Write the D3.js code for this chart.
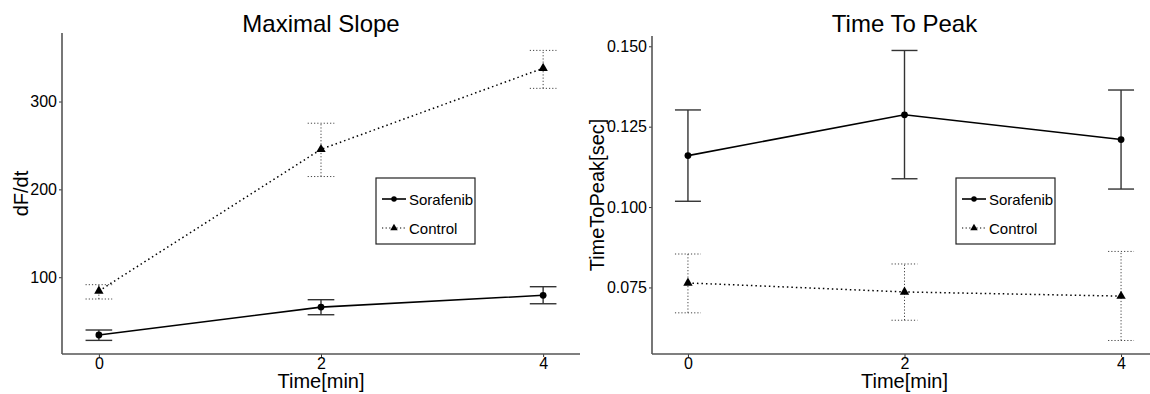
<!DOCTYPE html>
<html>
<head>
<meta charset="utf-8">
<script src="https://cdn.jsdelivr.net/npm/d3@7"></script>
<style>
  body { margin: 0; background: #fff; }
  svg text { font-family: "Liberation Sans", Arial, Helvetica, sans-serif; fill: #000; }
</style>
</head>
<body>
<svg id="chart"></svg>
<script>
const width = 1150;
const height = 394;

// Data
const times = [0, 2, 4];
const timeTicks = [0, 2, 4];
const seriesNames = ["Sorafenib", "Control"];

const slopeSorafenib = [34.2, 66.0, 79.4];
const slopeSorafenibLow = [28.1, 57.3, 69.8];
const slopeSorafenibHigh = [39.9, 74.4, 89.2];
const slopeControl = [84.3, 245.6, 337.9];
const slopeControlLow = [75.2, 214.6, 315.0];
const slopeControlHigh = [91.5, 275.3, 358.2];
const slopeTicks = [100, 200, 300];

const peakSorafenib = [0.1160, 0.1287, 0.1210];
const peakSorafenibLow = [0.1018, 0.1088, 0.1056];
const peakSorafenibHigh = [0.1302, 0.1487, 0.1364];
const peakControl = [0.0764, 0.0736, 0.0723];
const peakControlLow = [0.0671, 0.0648, 0.0585];
const peakControlHigh = [0.0854, 0.0823, 0.0862];
const peakTicks = [0.075, 0.100, 0.125, 0.150];

const svg = d3.select("#chart")
    .attr("width", width)
    .attr("height", height);

svg.append("rect").attr("width", width).attr("height", height).attr("fill", "#fff");

function rows(mean, low, high) {
    return times.map((t, i) => ({ t: t, v: mean[i], lo: low[i], hi: high[i] }));
}

function drawPanel(p) {
    const x = d3.scaleLinear().domain([-0.332, 4.332]).range([p.left, p.right]);
    const y = d3.scaleLinear().domain(p.yDomain).range([p.bottom, p.top]);
    const g = svg.append("g");
    const capHalf = 0.12;

    // error bars
    p.series.forEach(s => {
        const eb = g.append("g")
            .attr("stroke", s.dashed ? "#444" : "#333")
            .attr("stroke-width", s.dashed ? 1 : 1.4)
            .attr("stroke-dasharray", s.dashed ? "1.2,2" : null)
            .attr("fill", "none");
        s.data.forEach(d => {
            eb.append("line").attr("x1", x(d.t)).attr("x2", x(d.t)).attr("y1", y(d.lo)).attr("y2", y(d.hi));
            eb.append("line").attr("x1", x(d.t - capHalf)).attr("x2", x(d.t + capHalf)).attr("y1", y(d.lo)).attr("y2", y(d.lo));
            eb.append("line").attr("x1", x(d.t - capHalf)).attr("x2", x(d.t + capHalf)).attr("y1", y(d.hi)).attr("y2", y(d.hi));
        });
    });

    // lines
    const line = d3.line().x(d => x(d.t)).y(d => y(d.v));
    p.series.forEach(s => {
        g.append("path")
            .datum(s.data)
            .attr("d", line)
            .attr("fill", "none")
            .attr("stroke", "#000")
            .attr("stroke-width", s.dashed ? 1.5 : 1.6)
            .attr("stroke-dasharray", s.dashed ? "1.5,3" : null);
    });

    // points
    p.series.forEach(s => {
        s.data.forEach(d => drawSymbol(g, s.dashed, x(d.t), y(d.v)));
    });

    // axes
    const xAxis = d3.axisBottom(x).tickValues(timeTicks).tickSize(3).tickPadding(1).tickFormat(d3.format("d"));
    const yAxis = d3.axisLeft(y).tickValues(p.yTicks).tickSize(3).tickPadding(2).tickFormat(p.yFormat);

    const gx = g.append("g").attr("transform", `translate(0,${p.bottom})`).call(xAxis);
    const gy = g.append("g").attr("transform", `translate(${p.left},0)`).call(yAxis);
    [gx, gy].forEach(a => {
        a.select(".domain").remove();
        a.selectAll(".tick line").attr("stroke", "#333").attr("stroke-width", 1);
        a.selectAll(".tick text").attr("font-size", 16).attr("fill", "#000")
            .style("font-family", "'Liberation Sans', Arial, sans-serif");
    });
    g.append("line").attr("x1", p.left).attr("x2", p.right).attr("y1", p.bottom).attr("y2", p.bottom)
        .attr("stroke", "#555").attr("stroke-width", 1.6);
    g.append("line").attr("x1", p.left).attr("x2", p.left).attr("y1", p.top).attr("y2", p.bottom)
        .attr("stroke", "#555").attr("stroke-width", 1.6);

    // titles
    const cx = (p.left + p.right) / 2;
    g.append("text").attr("x", cx).attr("y", 32).attr("text-anchor", "middle")
        .attr("font-size", 24).text(p.title);
    g.append("text").attr("x", cx).attr("y", 388).attr("text-anchor", "middle")
        .attr("font-size", 20).text("Time[min]");
    g.append("text")
        .attr("transform", `translate(${p.yTitleX},${(p.top + p.bottom) / 2}) rotate(-90)`)
        .attr("text-anchor", "middle")
        .attr("font-size", 20).text(p.yTitle);

    // legend
    const lg = g.append("g").attr("transform", `translate(${p.legendX},178)`);
    lg.append("rect").attr("width", 99).attr("height", 66)
        .attr("fill", "#fff").attr("stroke", "#222").attr("stroke-width", 1.2);
    seriesNames.forEach((name, i) => {
        const ly = 21 + i * 29;
        const dashed = i === 1;
        lg.append("line").attr("x1", 6).attr("x2", 30).attr("y1", ly).attr("y2", ly)
            .attr("stroke", "#000").attr("stroke-width", dashed ? 1.2 : 1.6)
            .attr("stroke-dasharray", dashed ? "1.2,2.4" : null);
        drawSymbol(lg, dashed, 18, ly, 0.8);
        lg.append("text").attr("x", 33).attr("y", ly + 5.5).attr("font-size", 15).text(name);
    });
}

function drawSymbol(g, triangle, cx, cy, k) {
    k = k || 1;
    if (triangle) {
        g.append("path")
            .attr("d", d3.symbol(d3.symbolTriangle, 38 * k * k)())
            .attr("transform", `translate(${cx},${cy})`)
            .attr("fill", "#000");
    } else {
        g.append("circle").attr("cx", cx).attr("cy", cy).attr("r", 3.4 * k).attr("fill", "#000");
    }
}

drawPanel({
    left: 62, right: 580, top: 33, bottom: 354,
    yDomain: [12.6, 378],
    yTicks: slopeTicks,
    yFormat: d3.format("d"),
    title: "Maximal Slope",
    yTitle: "dF/dt",
    yTitleX: 28,
    legendX: 376,
    series: [
        { dashed: false, data: rows(slopeSorafenib, slopeSorafenibLow, slopeSorafenibHigh) },
        { dashed: true, data: rows(slopeControl, slopeControlLow, slopeControlHigh) }
    ]
});

drawPanel({
    left: 652, right: 1157, top: 36, bottom: 354,
    yDomain: [0.0543, 0.1532],
    yTicks: peakTicks,
    yFormat: d3.format(".3f"),
    title: "Time To Peak",
    yTitle: "TimeToPeak[sec]",
    yTitleX: 604,
    legendX: 956,
    series: [
        { dashed: false, data: rows(peakSorafenib, peakSorafenibLow, peakSorafenibHigh) },
        { dashed: true, data: rows(peakControl, peakControlLow, peakControlHigh) }
    ]
});
</script>
</body>
</html>
